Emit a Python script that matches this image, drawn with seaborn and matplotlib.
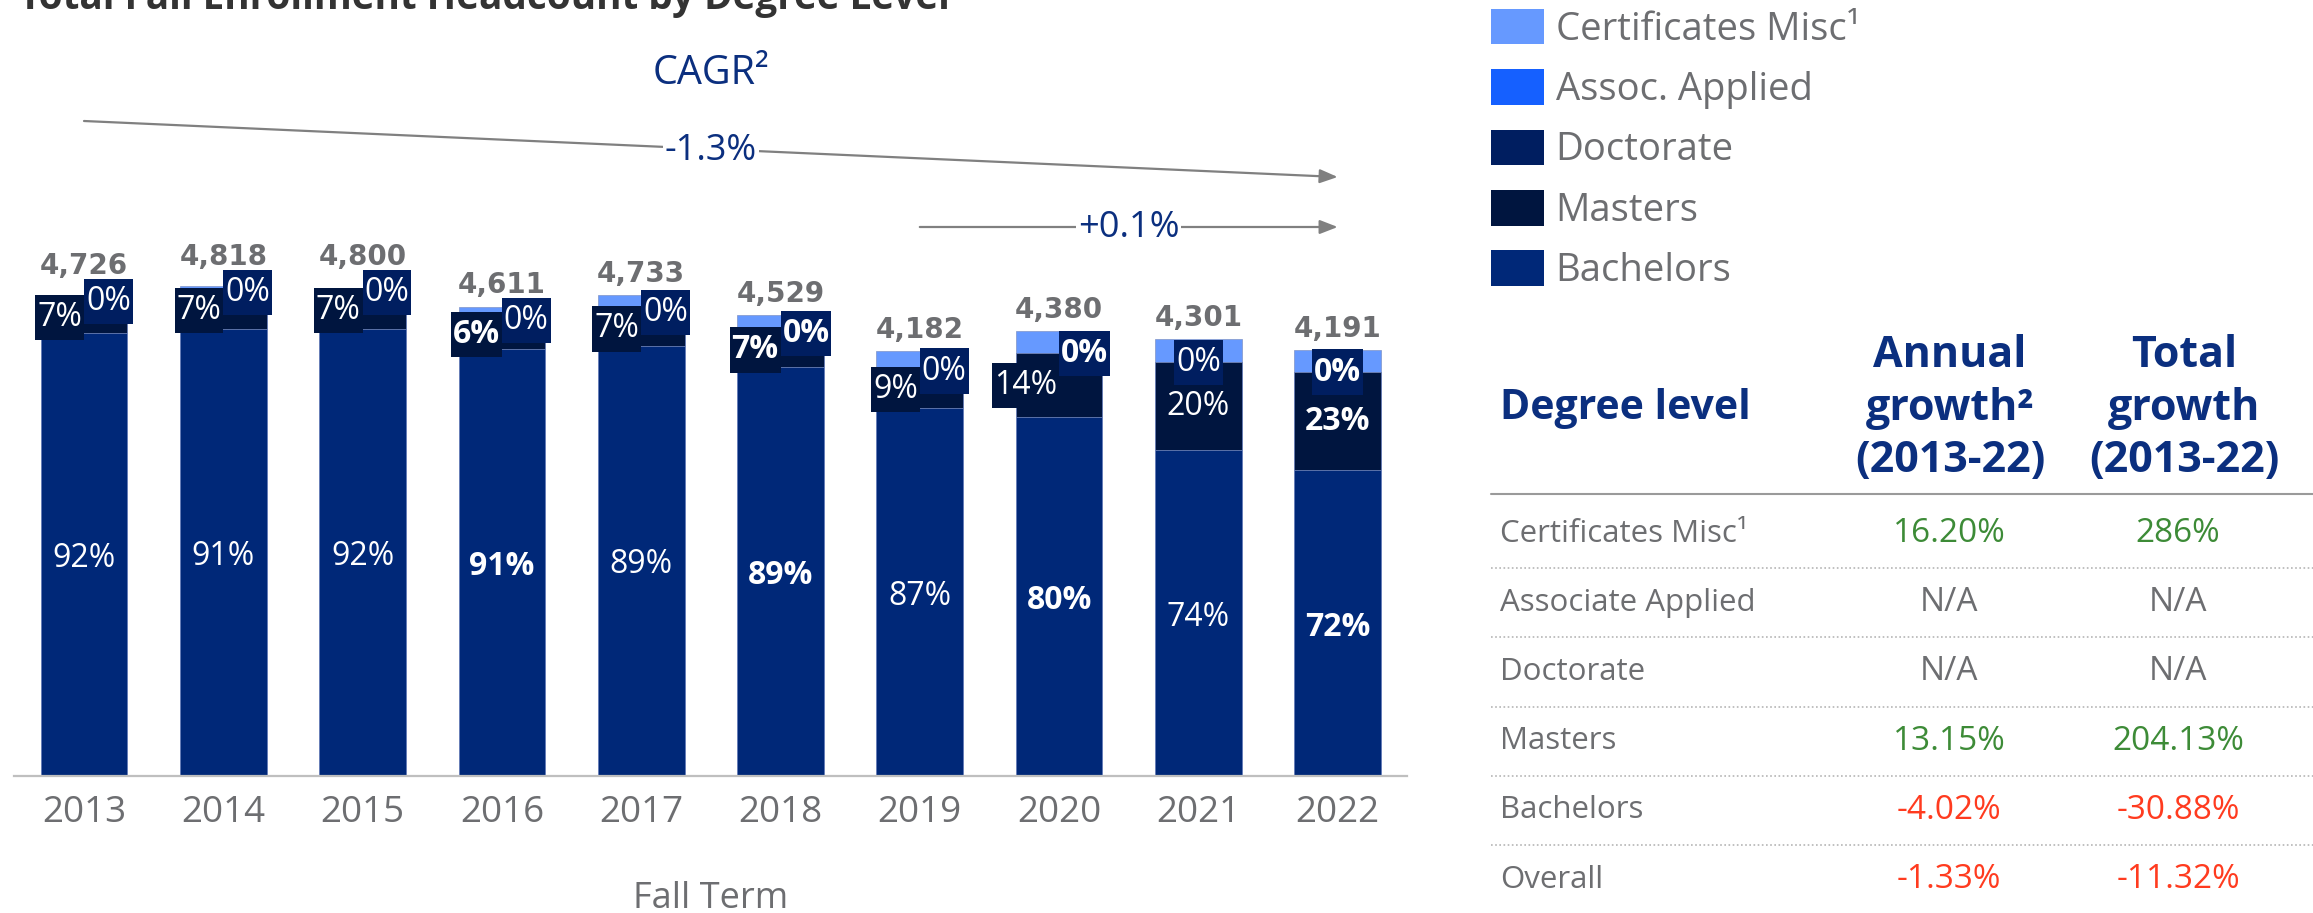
import matplotlib
matplotlib.use('Agg')
import matplotlib.pyplot as plt
import matplotlib.transforms as mtransforms
from matplotlib.patches import Patch
from matplotlib.lines import Line2D
import seaborn as sns

# ---- data ----
years = ['2013', '2014', '2015', '2016', '2017', '2018', '2019', '2020', '2021', '2022']
bachelors = [4352, 4398, 4400, 4196, 4231, 4025, 3618, 3527, 3203, 3008]
masters = [317, 354, 352, 285, 330, 328, 364, 629, 865, 964]
doctorate = [0, 0, 0, 0, 0, 0, 0, 0, 0, 0]
assoc_applied = [0, 0, 0, 0, 0, 0, 0, 0, 0, 0]
certificates = [57, 66, 48, 130, 172, 176, 200, 224, 233, 219]
totals = [4726, 4818, 4800, 4611, 4733, 4529, 4182, 4380, 4301, 4191]

bach_pct = [92, 91, 92, 91, 89, 89, 87, 80, 74, 72]
masters_pct = [7, 7, 7, 6, 7, 7, 9, 14, 20, 23]
doc_pct = [0, 0, 0, 0, 0, 0, 0, 0, 0, 0]

cagr_all = '-1.3%'
cagr_recent = '+0.1%'

legend_labels = ['Certificates Misc\u00b9', 'Assoc. Applied', 'Doctorate', 'Masters', 'Bachelors']

table_rows = ['Certificates Misc\u00b9', 'Associate Applied', 'Doctorate', 'Masters', 'Bachelors', 'Overall']
annual_growth = ['16.20%', 'N/A', 'N/A', '13.15%', '-4.02%', '-1.33%']
total_growth = ['286%', 'N/A', 'N/A', '204.13%', '-30.88%', '-11.32%']

# ---- style ----
C_CERT = '#6699ff'
C_ASSOC = '#1560ff'
C_DOC = '#001e60'
C_MAST = '#00153f'
C_BACH = '#002878'
NAVY = '#0b2f7f'
GRAY = '#6d6e71'
GREEN = '#3d8b37'
RED = '#ff3b1f'

bold_bach = [False, False, False, True, False, True, False, True, False, True]
bold_mast = [False, False, False, True, False, True, False, False, False, True]
bold_doc = [False, False, False, False, False, True, False, True, False, True]

sns.set_theme(style='white')
plt.rcParams['font.family'] = ['Open Sans', 'DejaVu Sans']

W, H = 2313, 913
def fx(px):
    return px / W
def fy(py):
    return 1 - py / H

fig = plt.figure(figsize=(W / 100, H / 100), dpi=100)
ax_h = 776
ax = fig.add_axes([fx(14.35), fy(ax_h), 1393 / W, ax_h / H])

cum_b = bachelors
cum_m = [b + m for b, m in zip(cum_b, masters)]
cum_d = [a + b for a, b in zip(cum_m, doctorate)]
cum_a = [a + b for a, b in zip(cum_d, assoc_applied)]
cum_c = [a + b for a, b in zip(cum_a, certificates)]

for vals, col in [(cum_c, C_CERT), (cum_a, C_ASSOC), (cum_d, C_DOC),
                  (cum_m, C_MAST), (cum_b, C_BACH)]:
    sns.barplot(x=years, y=vals, color=col, saturation=1, width=0.622,
                errorbar=None, edgecolor='#7f93c8', linewidth=0.5, ax=ax)

y_top = ax_h / 0.1017
px_per_unit = ax_h / y_top
ax.set_xlim(-0.5, 9.5)
ax.set_ylim(0, y_top)
ax.set_yticks([])
ax.set_ylabel('')
sns.despine(ax=ax, left=True)
ax.spines['bottom'].set_color('#bfbfbf')
ax.spines['bottom'].set_linewidth(1.6)
ax.tick_params(axis='x', length=0, pad=14, labelsize=26.5, labelcolor=GRAY)
ax.set_xlabel('Fall Term', fontsize=26, color=GRAY)
ax.xaxis.set_label_coords(0.5, (ax_h - 899) / ax_h)
ax.xaxis.label.set_va('center')

# masters / doctorate labels
box_pad = 0.06
pad_pt = box_pad * 23
for i in range(len(years)):
    mid = cum_b[i] + masters[i] / 2
    side = i < 8
    ax.annotate(f'{masters_pct[i]}%', xy=(i, mid),
                xytext=(-pad_pt if side else 0, 0), textcoords='offset points',
                ha='right' if side else 'center', va='center', color='white', fontsize=23,
                weight='bold' if bold_mast[i] else 'normal',
                bbox=dict(boxstyle=f'square,pad={box_pad}', fc=C_MAST, ec='none',
                          mutation_aspect=3.2))
    ax.annotate(f'{doc_pct[i]}%', xy=(i, cum_d[i]),
                xytext=(pad_pt if side else 0, 0), textcoords='offset points',
                ha='left' if side else 'center', va='center', color='white', fontsize=23,
                weight='bold' if bold_doc[i] else 'normal',
                bbox=dict(boxstyle=f'square,pad={box_pad}', fc=C_DOC, ec='none',
                          mutation_aspect=3.2))

# totals on top: clear of the bar and of the doctorate label box
for i, t in enumerate(totals):
    lift_px = max(13, 27.5 - certificates[i] * px_per_unit)
    ax.annotate(f'{t:,}', xy=(i, cum_c[i]), xytext=(0, lift_px * 0.72),
                textcoords='offset points', ha='center', va='baseline', fontsize=20,
                weight='bold', color=GRAY, family='DejaVu Sans')

# bachelors labels
for i in range(len(years)):
    ax.text(i, cum_b[i] / 2, f'{bach_pct[i]}%', ha='center', va='center_baseline',
            color='white', fontsize=23, weight='bold' if bold_bach[i] else 'normal')

# CAGR arrows
trans = mtransforms.blended_transform_factory(ax.transData, ax.transAxes)
arrow_kw = dict(arrowstyle='-|>,head_length=0.9,head_width=0.35', color='#808080', lw=1.6,
                shrinkA=0, shrinkB=0)
ax.annotate('', xy=(9, 1 - 177 / ax_h), xytext=(0, 1 - 121 / ax_h),
            xycoords=trans, textcoords=trans, arrowprops=arrow_kw, annotation_clip=False)
ax.annotate('', xy=(9, 1 - 227 / ax_h), xytext=(6, 1 - 227 / ax_h),
            xycoords=trans, textcoords=trans, arrowprops=arrow_kw, annotation_clip=False)
ax.text(4.5, 1 - 151 / ax_h, cagr_all, transform=trans, ha='center', va='center',
        fontsize=26, color=NAVY, bbox=dict(boxstyle='square,pad=0.05', fc='white', ec='none'))
ax.text(7.5, 1 - 228 / ax_h, cagr_recent, transform=trans, ha='center', va='center',
        fontsize=26, color=NAVY, bbox=dict(boxstyle='square,pad=0.05', fc='white', ec='none'))
ax.text(4.5, 1 - 74 / ax_h, 'CAGR\u00b2', transform=trans, ha='center', va='center',
        fontsize=28.5, color=NAVY)

# title (cut off at the top edge, as in the source slide)
title = fig.text(fx(19), fy(9), 'Total Fall Enrollment Headcount by Degree Level',
                 ha='left', va='baseline', fontsize=28, weight='bold', color='#333333')
fig.canvas.draw()
tw = title.get_window_extent().width
title.set_fontsize(28 * 931 / tw)

# legend
handles = [Patch(facecolor=c, edgecolor='none') for c in [C_CERT, C_ASSOC, C_DOC, C_MAST, C_BACH]]
fig.legend(handles, legend_labels, loc='upper left', bbox_to_anchor=(fx(1491), fy(9)),
           bbox_transform=fig.transFigure, frameon=False, fontsize=27.5,
           handlelength=1.39, handleheight=1.05, handletextpad=0.3, labelspacing=0.54,
           borderpad=0, borderaxespad=0, labelcolor=GRAY)

# growth table
fig.text(fx(1500), fy(408), 'Degree level', ha='left', va='center', fontsize=29.5,
         weight='bold', color=NAVY)
fig.text(fx(1950), fy(408), 'Annual\ngrowth\u00b2\n(2013-22)', ha='center', va='center',
         fontsize=31, weight='bold', color=NAVY, linespacing=1.3, multialignment='center')
fig.text(fx(2184), fy(408), 'Total\ngrowth\n(2013-22)', ha='center', va='center',
         fontsize=31, weight='bold', color=NAVY, linespacing=1.3, multialignment='center')
fig.add_artist(Line2D([fx(1491), 1], [fy(494), fy(494)], color='#9a9a9a', lw=1.5))

def val_color(s):
    if s == 'N/A':
        return GRAY
    return RED if s.startswith('-') else GREEN

row_y0, row_step = 533.5, 69.2
for k, name in enumerate(table_rows):
    y = row_y0 + k * row_step
    fig.text(fx(1500), fy(y), name, ha='left', va='center', fontsize=22.5, color=GRAY)
    fig.text(fx(1949), fy(y), annual_growth[k], ha='center', va='center', fontsize=24,
             color=val_color(annual_growth[k]))
    fig.text(fx(2178), fy(y), total_growth[k], ha='center', va='center', fontsize=24,
             color=val_color(total_growth[k]))
    if k < len(table_rows) - 1:
        yl = y + row_step / 2
        fig.add_artist(Line2D([fx(1491), 1], [fy(yl), fy(yl)], color='#b5b5b5', lw=1.2,
                              linestyle=(0, (1, 1.5))))

fig.savefig('out.png', dpi=100)
